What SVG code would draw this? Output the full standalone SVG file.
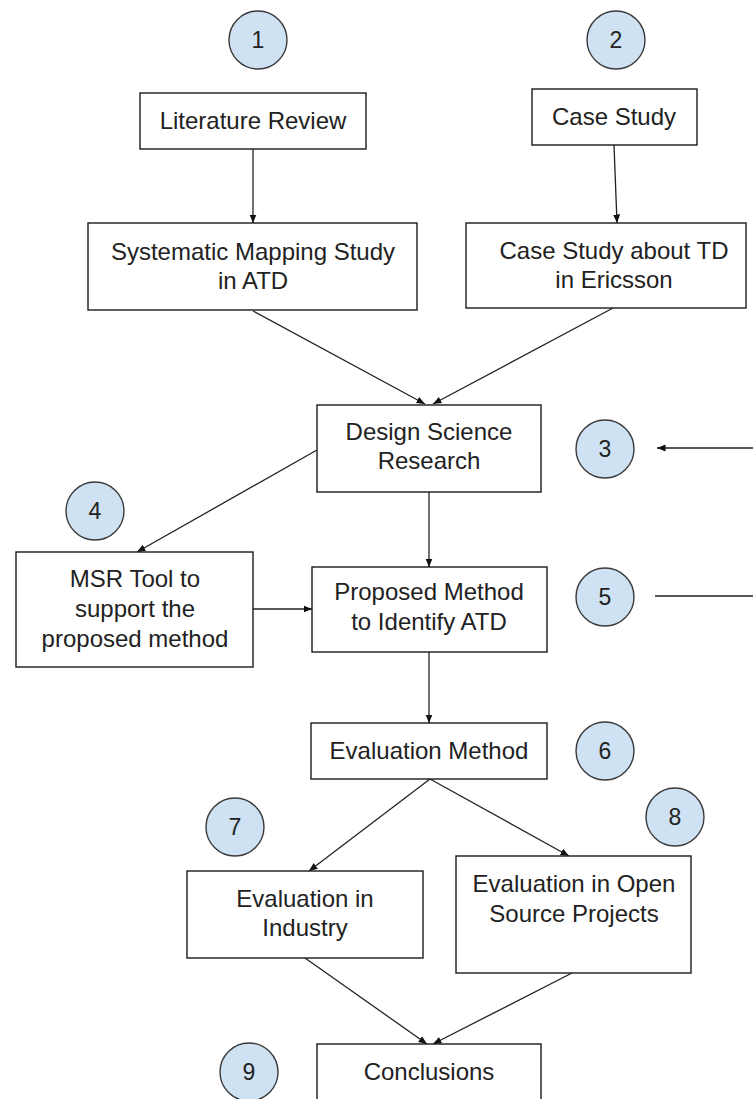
<svg xmlns="http://www.w3.org/2000/svg" width="753" height="1099" viewBox="0 0 753 1099">
  <style>
    .box { fill: #ffffff; stroke: #1a1a1a; stroke-width: 1.4; }
    .step { fill: #cfe2f3; stroke: #3a3a3a; stroke-width: 1.4; }
    .lbl { font-family: "Liberation Sans", Arial, sans-serif; font-size: 24px; fill: #222222; text-anchor: middle; }
    .num { font-family: "Liberation Sans", Arial, sans-serif; font-size: 23px; fill: #222222; text-anchor: middle; }
    .edge { fill: none; stroke: #222222; stroke-width: 1.3; }
  </style>
  <defs>
    <marker id="ah" markerWidth="9" markerHeight="8" refX="8.5" refY="4" orient="auto" markerUnits="userSpaceOnUse">
      <path d="M0,0.5 L8.5,4 L0,7.5 z" fill="#111111"/>
    </marker>
  </defs>
  <rect width="753" height="1099" fill="#ffffff"/>

  <!-- connectors -->
  <g id="connectors">
    <line class="edge" x1="253" y1="149" x2="253" y2="223" marker-end="url(#ah)"/>
    <line class="edge" x1="614" y1="145" x2="617" y2="223" marker-end="url(#ah)"/>
    <line class="edge" x1="253" y1="311" x2="425" y2="404" marker-end="url(#ah)"/>
    <line class="edge" x1="613" y1="308" x2="433" y2="404" marker-end="url(#ah)"/>
    <line class="edge" x1="317" y1="450" x2="137" y2="552" marker-end="url(#ah)"/>
    <line class="edge" x1="429" y1="492" x2="429" y2="567" marker-end="url(#ah)"/>
    <line class="edge" x1="253" y1="609" x2="312" y2="609" marker-end="url(#ah)"/>
    <line class="edge" x1="429" y1="652" x2="429" y2="723" marker-end="url(#ah)"/>
    <line class="edge" x1="430" y1="779" x2="309" y2="871" marker-end="url(#ah)"/>
    <line class="edge" x1="430" y1="779" x2="569" y2="856" marker-end="url(#ah)"/>
    <line class="edge" x1="305" y1="958" x2="427" y2="1044" marker-end="url(#ah)"/>
    <line class="edge" x1="572" y1="973" x2="433" y2="1044" marker-end="url(#ah)"/>
    <line class="edge" x1="753" y1="448" x2="657" y2="448" marker-end="url(#ah)"/>
    <line class="edge" x1="655" y1="596" x2="753" y2="596"/>
  </g>

  <!-- process boxes -->
  <g id="literature-review">
    <rect class="box" x="140" y="93" width="226" height="56"/>
    <text class="lbl" x="253" y="129">Literature Review</text>
  </g>
  <g id="case-study">
    <rect class="box" x="532" y="89" width="165" height="56"/>
    <text class="lbl" x="614" y="125">Case Study</text>
  </g>
  <g id="mapping-study">
    <rect class="box" x="88" y="223" width="329" height="87"/>
    <text class="lbl" x="253" y="260">Systematic Mapping Study</text>
    <text class="lbl" x="253" y="289">in ATD</text>
  </g>
  <g id="case-study-td">
    <rect class="box" x="466" y="223" width="280" height="85"/>
    <text class="lbl" x="614" y="259">Case Study about TD</text>
    <text class="lbl" x="614" y="288">in Ericsson</text>
  </g>
  <g id="design-science">
    <rect class="box" x="317" y="405" width="224" height="87"/>
    <text class="lbl" x="429" y="440">Design Science</text>
    <text class="lbl" x="429" y="469">Research</text>
  </g>
  <g id="msr-tool">
    <rect class="box" x="16" y="552" width="237" height="115"/>
    <text class="lbl" x="135" y="587">MSR Tool to</text>
    <text class="lbl" x="135" y="617">support the</text>
    <text class="lbl" x="135" y="647">proposed method</text>
  </g>
  <g id="proposed-method">
    <rect class="box" x="312" y="567" width="235" height="85"/>
    <text class="lbl" x="429" y="600">Proposed Method</text>
    <text class="lbl" x="429" y="630">to Identify ATD</text>
  </g>
  <g id="evaluation-method">
    <rect class="box" x="311" y="723" width="236" height="56"/>
    <text class="lbl" x="429" y="759">Evaluation Method</text>
  </g>
  <g id="evaluation-industry">
    <rect class="box" x="187" y="871" width="236" height="87"/>
    <text class="lbl" x="305" y="907">Evaluation in</text>
    <text class="lbl" x="305" y="936">Industry</text>
  </g>
  <g id="evaluation-open-source">
    <rect class="box" x="456" y="856" width="235" height="117"/>
    <text class="lbl" x="574" y="892">Evaluation in Open</text>
    <text class="lbl" x="574" y="922">Source Projects</text>
  </g>
  <g id="conclusions">
    <rect class="box" x="317" y="1044" width="224" height="70"/>
    <text class="lbl" x="429" y="1080">Conclusions</text>
  </g>

  <!-- numbered step markers -->
  <g id="step-1"><circle class="step" cx="258" cy="40" r="29"/><text class="num" x="258" y="48">1</text></g>
  <g id="step-2"><circle class="step" cx="616" cy="40" r="29"/><text class="num" x="616" y="48">2</text></g>
  <g id="step-3"><circle class="step" cx="605" cy="449" r="29"/><text class="num" x="605" y="457">3</text></g>
  <g id="step-4"><circle class="step" cx="95" cy="511" r="29"/><text class="num" x="95" y="519">4</text></g>
  <g id="step-5"><circle class="step" cx="605" cy="597" r="29"/><text class="num" x="605" y="605">5</text></g>
  <g id="step-6"><circle class="step" cx="605" cy="751" r="29"/><text class="num" x="605" y="759">6</text></g>
  <g id="step-7"><circle class="step" cx="235" cy="827" r="29"/><text class="num" x="235" y="835">7</text></g>
  <g id="step-8"><circle class="step" cx="675" cy="817" r="29"/><text class="num" x="675" y="825">8</text></g>
  <g id="step-9"><circle class="step" cx="249" cy="1072" r="29"/><text class="num" x="249" y="1080">9</text></g>
</svg>
